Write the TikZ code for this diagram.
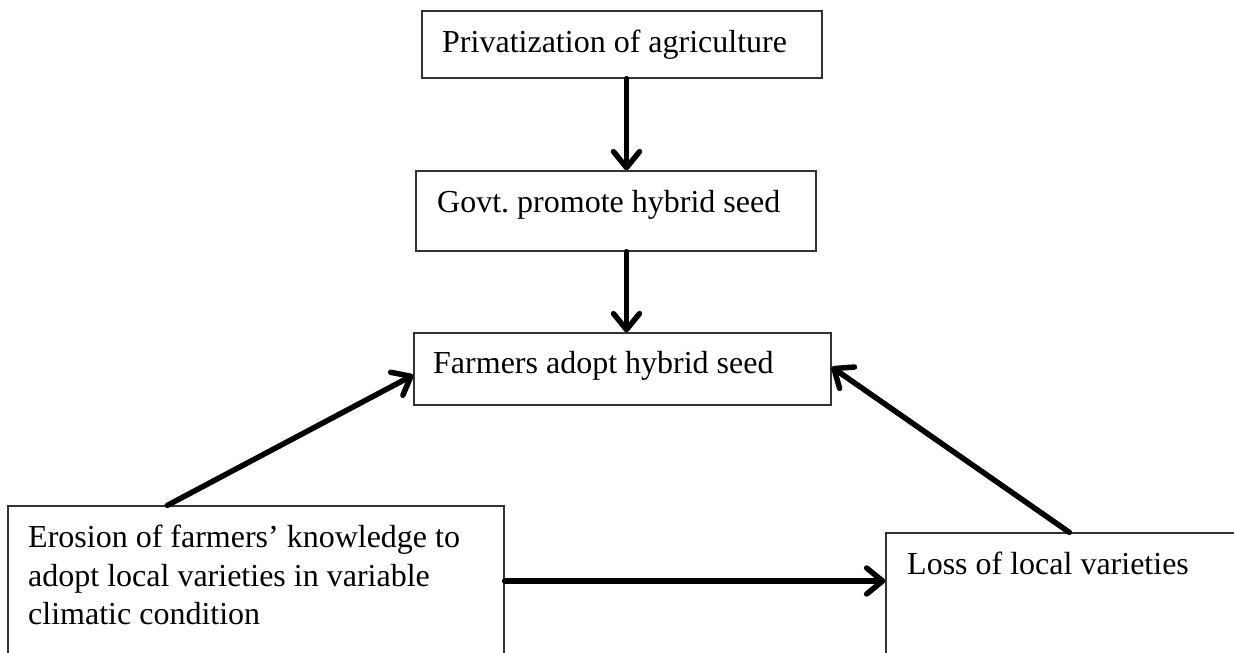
\documentclass[tikz,border=0pt]{standalone}
\usepackage{fontspec}
\setmainfont{Liberation Serif}
\frenchspacing
\usetikzlibrary{arrows.meta}
\begin{document}
\begin{tikzpicture}[x=1pt,y=-1pt,
  box/.style={draw=black!80, line width=1.3pt, rectangle, inner sep=0pt, fill=white},
  txt/.style={anchor=base west, inner sep=0pt, font=\fontsize{32}{38.5}\selectfont, align=left},
  arr/.style={line width=5.5pt, line cap=round, -{Straight Barb[length=16pt,width=26pt,line cap=round,line join=round]}}]
\clip (0,0) rectangle (1234,653);
\fill[white] (0,0) rectangle (1234,653);
% boxes
\node[box, minimum width=400pt, minimum height=67pt] (b1) at (622,44.5) {};
\node[box, minimum width=400pt, minimum height=80pt] (b2) at (616,211) {};
\node[box, minimum width=417pt, minimum height=72pt] (b3) at (622.5,369) {};
\node[box, minimum width=496pt, minimum height=194pt] (b4) at (256,603) {};
\node[box, minimum width=354pt, minimum height=167pt] (b5) at (1063,616.5) {};
% texts
\node[txt] (t1) at (442,52) {Privatization of agriculture};
\node[txt] (t2) at (437,212) {Govt. promote hybrid seed};
\node[txt] (t3) at (433,373) {Farmers adopt hybrid seed};
\node[txt, anchor=north west] (t4) at (28,525) {Erosion of farmers’ knowledge to\\adopt local varieties in variable\\climatic condition};
\node[txt] (t5) at (907,574) {Loss of local varieties};
% helper coordinates
\coordinate (cx) at (626.5,0);
\coordinate (cy) at (0,581);
% arrows
\draw[arr] (b1.south -| cx) -- (b2.north -| cx);
\draw[arr] (b2.south -| cx) -- (b3.north -| cx);
\draw[arr] ([xshift=160pt]b4.north west) -- ([yshift=-6pt]b3.west);
\draw[arr] ([xshift=184pt]b5.north west) -- ([yshift=2pt]b3.east);
\draw[arr] (b4.east |- cy) -- (b5.west |- cy);
\end{tikzpicture}
\end{document}
